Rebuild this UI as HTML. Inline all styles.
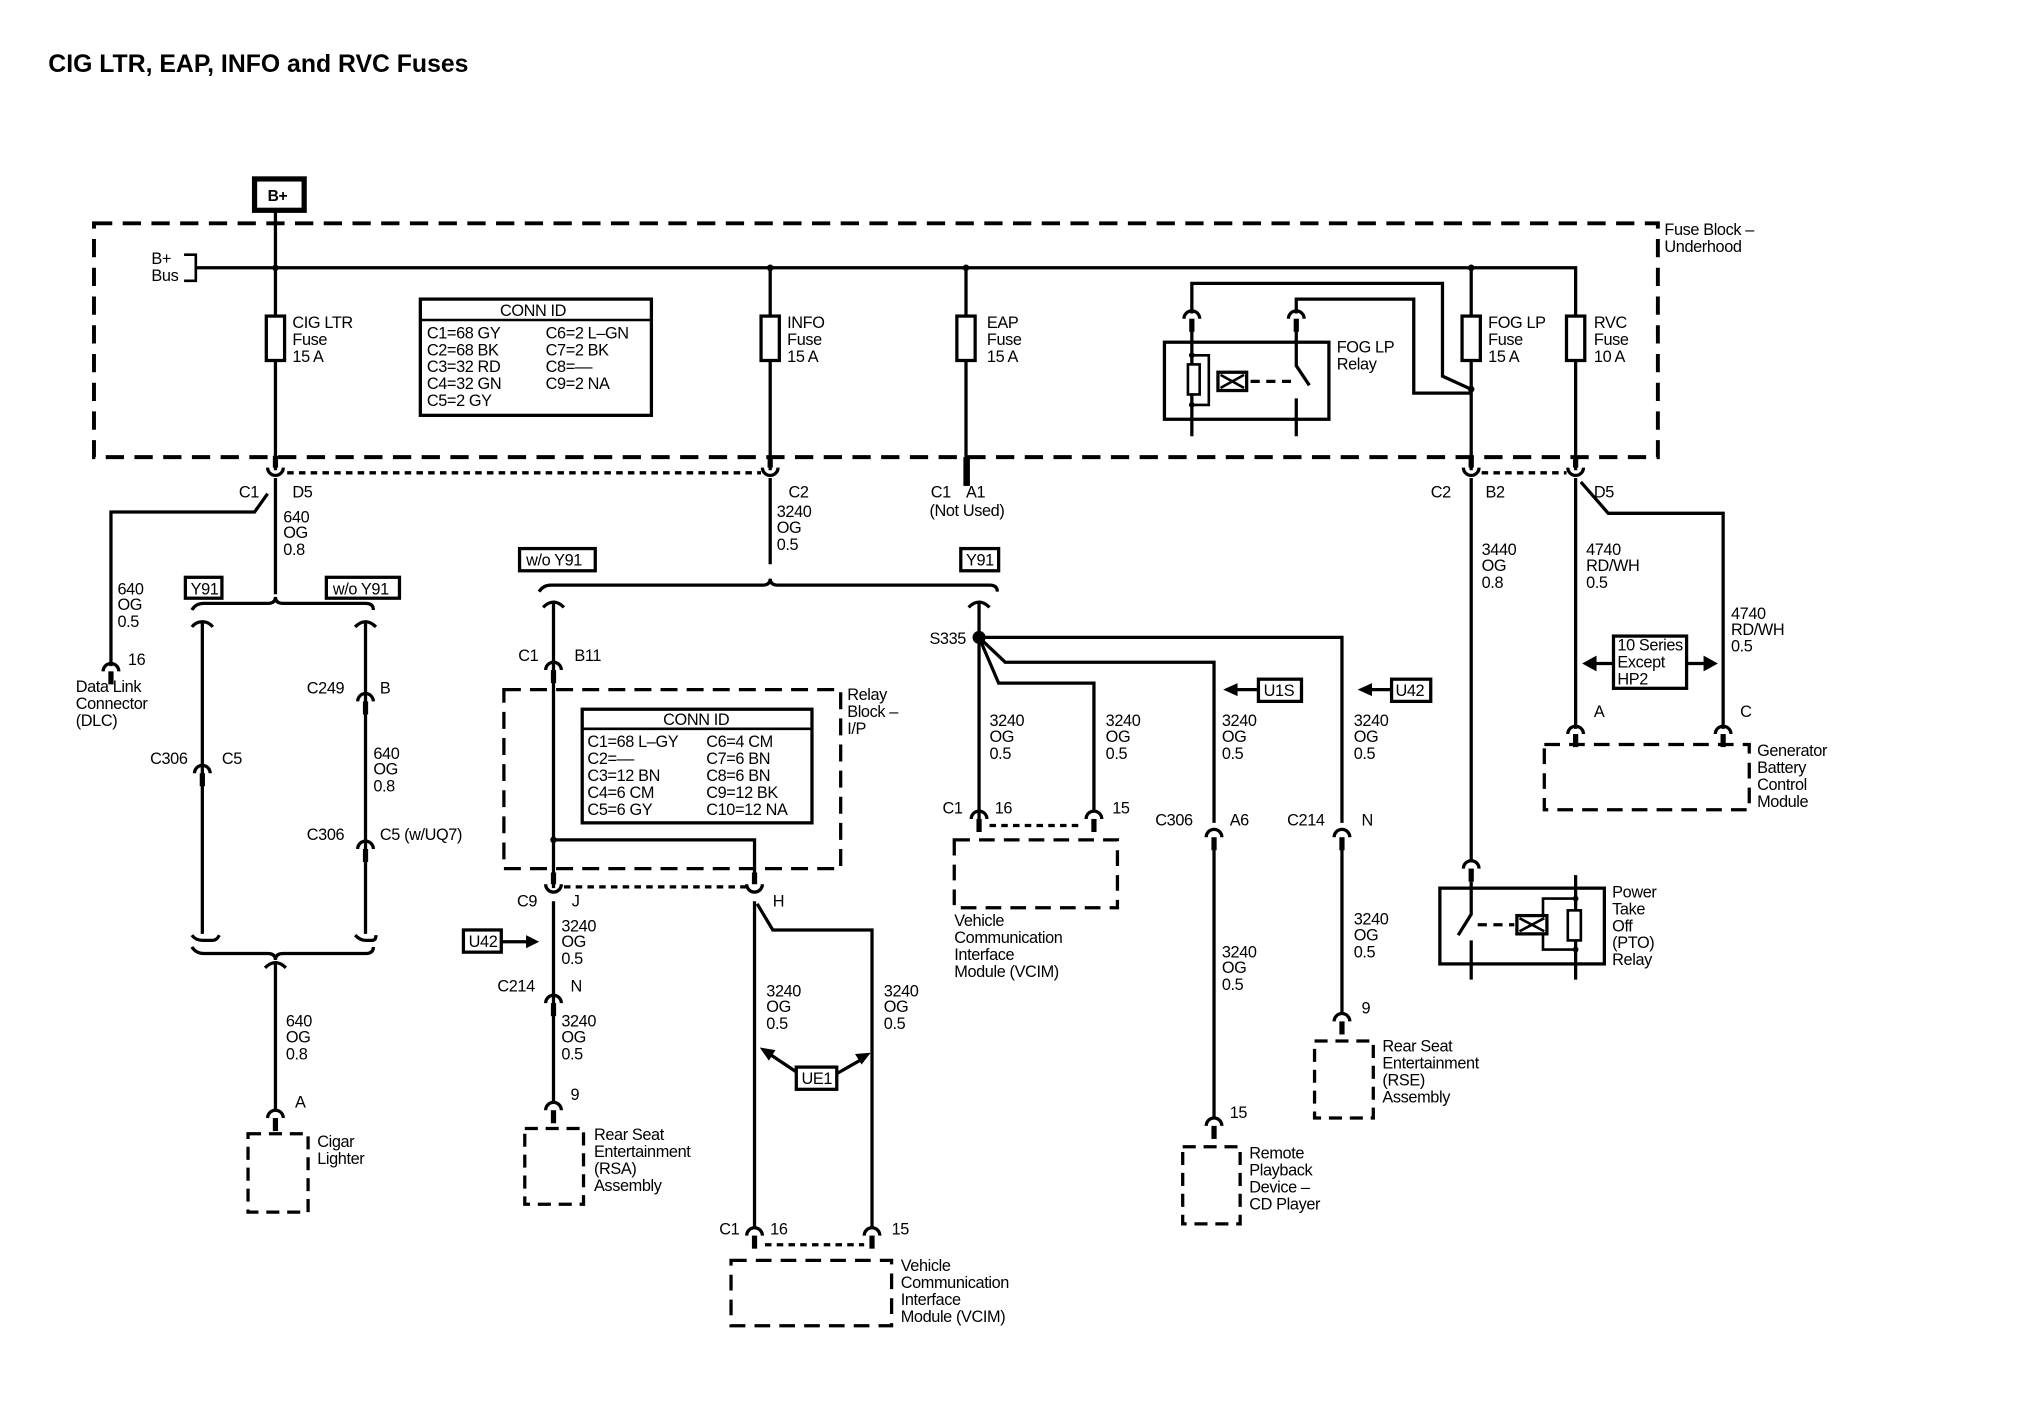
<!DOCTYPE html>
<html><head><meta charset="utf-8"><style>
html,body{margin:0;padding:0;background:#fff;}
svg{display:block;}
text{font-family:"Liberation Sans Narrow","Liberation Sans",sans-serif;font-size:12.5px;fill:#000;letter-spacing:-0.3px;}
.b{font-weight:bold;}
</style></head><body>
<svg width="2026" height="1408" viewBox="0 0 1552 1078" preserveAspectRatio="none" xmlns="http://www.w3.org/2000/svg">
<defs>
<g id="cup"><rect x="-2" y="-9" width="4" height="9"/><path d="M-6 0 A6 6 0 0 0 6 0" fill="none" stroke="#000" stroke-width="2.5"/></g>
<g id="cap"><rect x="-2" y="0" width="4" height="10"/><path d="M-6 0 A6 6 0 0 1 6 0" fill="none" stroke="#000" stroke-width="2.5"/></g>
</defs>
<rect width="1552" height="1078" fill="#fff"/>
<text x="37" y="55" class="b" style="font-family:'Liberation Sans',sans-serif;font-size:19px;letter-spacing:0">CIG LTR, EAP, INFO and RVC Fuses</text>

<g fill="none" stroke="#000" stroke-width="2.5">
<rect x="72" y="171" width="1198" height="179" stroke-dasharray="14 8" stroke-width="3"/>
<rect x="195" y="137" width="38" height="24" stroke-width="4"/>
<path d="M150 205 H1207 V360"/>
<path d="M141 195 H150 V215 H141" stroke-width="2"/>
<path d="M211 161 V360 M590 205 V360 M740 205 V372 M1127 205 V360"/>
<rect x="204" y="242" width="14" height="34" fill="#fff"/>
<rect x="583" y="242" width="14" height="34" fill="#fff"/>
<rect x="733" y="242" width="14" height="34" fill="#fff"/>
<rect x="1120" y="242" width="14" height="34" fill="#fff"/>
<rect x="1200" y="242" width="14" height="34" fill="#fff"/>
<rect x="322" y="229" width="177" height="89" stroke-width="2.5"/>
<path d="M322 245 H499" stroke-width="2"/>
<rect x="892" y="262" width="126" height="59"/>
<path d="M913 240 V217 H1105 V288 L1127 298"/>
<path d="M993 240 V229 H1083 V301 H1127"/>
<path d="M913 248 V334 M993 248 V280 L1003 295 M993 305 V334"/>
<rect x="910" y="279" width="9" height="23" fill="#fff" stroke-width="2"/>
<path d="M913 272 H926 V310 H913" stroke-width="2"/>
<rect x="933" y="285" width="22" height="14" stroke-width="2.5"/>
<path d="M935 287 L953 297 M935 297 L953 287" stroke-width="2"/>
<path d="M958 292 H990" stroke-dasharray="7 5"/>
<path d="M220 362 H583 M1135 362 H1200" stroke-dasharray="5 4"/>
<path d="M211 366 V455"/>
<path d="M205 378 L195 392 H85 V510"/>
<path d="M147 467 Q150 462 156 462 H205 Q211 462 211 457 Q211 462 217 462 H280 Q286 462 286 467"/>
<path d="M147 480 Q150 476 155 476 V715 M155 476 Q160 476 163 480"/>
<path d="M272 480 Q276 476 280 476 V715 M280 476 Q284 476 288 480"/>
<path d="M147 716 Q150 720 155 720 H163 Q166 720 168 716" />
<path d="M272 716 Q276 720 280 720 H285 Q288 720 288 716"/>
<path d="M147 725 Q150 730 156 730 H205 Q211 730 211 735 Q211 730 217 730 H280 Q286 730 286 725"/>
<path d="M203 741 Q207 737 211 737 V850 M211 737 Q215 737 219 741"/>
<rect x="190" y="868" width="46" height="60" stroke-dasharray="10 6"/>
<path d="M590 366 V432"/>
<path d="M413 453 Q416 448 422 448 H584 Q590 448 590 443 Q590 448 596 448 H758 Q764 448 764 453"/>
<path d="M416 465 Q420 461 424 461 V680 M424 461 Q428 461 432 465"/>
<path d="M742 465 Q746 461 750 461 V628 M750 461 Q754 461 758 465"/>
<rect x="386" y="528" width="258" height="137" stroke-dasharray="13 7"/>
<rect x="446" y="543" width="176" height="87" stroke-width="2.5"/>
<path d="M446 558 H622" stroke-width="2"/>
<path d="M424 643 H578 V675"/>
<path d="M432 679 H572" stroke-dasharray="5 4"/>
<path d="M424 690 V845 M578 690 V940"/>
<path d="M580 692 L592 712 H668 V940"/>
<path d="M384 721 H405"/>
<path d="M612 822 L588 806 M641 822 L662 810"/>
<rect x="402" y="864" width="45" height="58" stroke-dasharray="10 6"/>
<path d="M586 953 H662" stroke-dasharray="5 4"/>
<rect x="560" y="965" width="123" height="50" stroke-dasharray="12 7"/>
<path d="M750 488 H1028 V630 M750 488 L770 507 H930 V630 M750 488 L765 523 H838 V620"/>
<path d="M758 632 H830" stroke-dasharray="5 4"/>
<rect x="731" y="643" width="125" height="52" stroke-dasharray="12 7"/>
<path d="M964 528 H948 M1066 528 H1050"/>
<path d="M930 650 V856 M1028 650 V776"/>
<rect x="906" y="878" width="44" height="59" stroke-dasharray="10 6"/>
<rect x="1007" y="797" width="45" height="59" stroke-dasharray="10 6"/>
<path d="M1127 366 V660"/>
<rect x="1103" y="680" width="126" height="58"/>
<path d="M1127 675 V700 L1117 716 M1127 720 V750 M1207 670 V750"/>
<rect x="1201" y="697" width="10" height="23" fill="#fff" stroke-width="2"/>
<path d="M1207 688 H1182 V727 H1207" stroke-width="2"/>
<rect x="1162" y="701" width="23" height="14" fill="#fff"/>
<path d="M1164 703 L1183 713 M1164 713 L1183 703" stroke-width="2"/>
<path d="M1132 708 H1160" stroke-dasharray="7 5"/>
<path d="M1207 366 V558 M1211 369 L1232 393 H1320 V558"/>
<rect x="1236" y="487" width="56" height="40" stroke-width="2.5"/>
<path d="M1236 508 H1222 M1292 508 H1306"/>
<rect x="1183" y="570" width="157" height="50" stroke-dasharray="12 7"/>
</g>
<g fill="#000">
<circle cx="211" cy="205" r="2.5"/><circle cx="590" cy="205" r="2.5"/><circle cx="740" cy="205" r="2.5"/><circle cx="1127" cy="205" r="2.5"/>
<circle cx="1127" cy="298" r="2.5"/><circle cx="424" cy="643" r="2.5"/><circle cx="750" cy="488" r="5"/>
<circle cx="913" cy="272" r="2.2"/><circle cx="913" cy="310" r="2.2"/><circle cx="1207" cy="688" r="2.2"/><circle cx="1207" cy="727" r="2.2"/>
<rect x="738" y="350" width="5" height="22"/>
<polygon points="413,721 403,716 403,726"/>
<polygon points="937,528 948,523 948,533"/>
<polygon points="1040,528 1051,523 1051,533"/>
<polygon points="1212,508 1223,502 1223,514"/>
<polygon points="1316,508 1305,502 1305,514"/>
<polygon points="582,802 594,804 589,812"/>
<polygon points="667,806 655,807 660,815"/>
</g>
<use href="#cup" x="211" y="358"/><use href="#cup" x="590" y="358"/><use href="#cup" x="1127" y="358"/><use href="#cup" x="1207" y="358"/>
<use href="#cup" x="424" y="677"/><use href="#cup" x="578" y="677"/>
<use href="#cap" x="913" y="244"/><use href="#cap" x="993" y="244"/>
<use href="#cap" x="85" y="514"/><use href="#cap" x="155" y="592"/><use href="#cap" x="280" y="537"/><use href="#cap" x="280" y="650"/>
<use href="#cap" x="211" y="856"/><use href="#cap" x="424" y="513"/><use href="#cap" x="424" y="768"/><use href="#cap" x="424" y="850"/>
<use href="#cap" x="578" y="946"/><use href="#cap" x="668" y="946"/>
<use href="#cap" x="750" y="627"/><use href="#cap" x="838" y="627"/><use href="#cap" x="930" y="641"/><use href="#cap" x="1028" y="641"/>
<use href="#cap" x="930" y="862"/><use href="#cap" x="1028" y="782"/><use href="#cap" x="1127" y="665"/>
<use href="#cap" x="1207" y="562"/><use href="#cap" x="1320" y="562"/>

<text x="205" y="154" class="b" style="font-size:12px">B+</text>
<text x="116" y="202">B+</text><text x="116" y="215">Bus</text>
<text x="1275" y="180">Fuse Block –</text><text x="1275" y="193">Underhood</text>
<text x="224" y="251">CIG LTR</text><text x="224" y="264">Fuse</text><text x="224" y="277">15 A</text>
<text x="603" y="251">INFO</text><text x="603" y="264">Fuse</text><text x="603" y="277">15 A</text>
<text x="756" y="251">EAP</text><text x="756" y="264">Fuse</text><text x="756" y="277">15 A</text>
<text x="1140" y="251">FOG LP</text><text x="1140" y="264">Fuse</text><text x="1140" y="277">15 A</text>
<text x="1221" y="251">RVC</text><text x="1221" y="264">Fuse</text><text x="1221" y="277">10 A</text>
<text x="1024" y="270">FOG LP</text><text x="1024" y="283">Relay</text>
<text x="383" y="242">CONN ID</text>
<text x="327" y="259">C1=68 GY</text><text x="327" y="272">C2=68 BK</text><text x="327" y="285">C3=32 RD</text><text x="327" y="298">C4=32 GN</text><text x="327" y="311">C5=2 GY</text>
<text x="418" y="259">C6=2 L–GN</text><text x="418" y="272">C7=2 BK</text><text x="418" y="285">C8=––</text><text x="418" y="298">C9=2 NA</text>
<text x="183" y="381">C1</text><text x="224" y="381">D5</text>
<text x="217" y="400">640</text><text x="217" y="412">OG</text><text x="217" y="425">0.8</text>
<text x="90" y="455">640</text><text x="90" y="467">OG</text><text x="90" y="480">0.5</text>
<text x="98" y="509">16</text>
<text x="58" y="530">Data Link</text><text x="58" y="543">Connector</text><text x="58" y="556">(DLC)</text>
<rect x="142" y="442" width="28" height="16" fill="none" stroke="#000" stroke-width="2.5"/><text x="146" y="455">Y91</text>
<rect x="250" y="442" width="56" height="16" fill="none" stroke="#000" stroke-width="2.5"/><text x="255" y="455">w/o Y91</text>
<text x="115" y="585">C306</text><text x="170" y="585">C5</text>
<text x="235" y="531">C249</text><text x="291" y="531">B</text>
<text x="286" y="581">640</text><text x="286" y="593">OG</text><text x="286" y="606">0.8</text>
<text x="235" y="643">C306</text><text x="291" y="643">C5 (w/UQ7)</text>
<text x="219" y="786">640</text><text x="219" y="798">OG</text><text x="219" y="811">0.8</text>
<text x="226" y="848">A</text>
<text x="243" y="878">Cigar</text><text x="243" y="891">Lighter</text>
<text x="604" y="381">C2</text>
<text x="595" y="396">3240</text><text x="595" y="408">OG</text><text x="595" y="421">0.5</text>
<text x="713" y="381">C1</text><text x="740" y="381">A1</text><text x="712" y="395">(Not Used)</text>
<rect x="398" y="420" width="58" height="17" fill="none" stroke="#000" stroke-width="2.5"/><text x="403" y="433">w/o Y91</text>
<rect x="736" y="420" width="29" height="17" fill="none" stroke="#000" stroke-width="2.5"/><text x="740" y="433">Y91</text>
<text x="397" y="506">C1</text><text x="440" y="506">B11</text>
<text x="649" y="536">Relay</text><text x="649" y="549">Block –</text><text x="649" y="562">I/P</text>
<text x="508" y="555">CONN ID</text>
<text x="450" y="572">C1=68 L–GY</text><text x="450" y="585">C2=––</text><text x="450" y="598">C3=12 BN</text><text x="450" y="611">C4=6 CM</text><text x="450" y="624">C5=6 GY</text>
<text x="541" y="572">C6=4 CM</text><text x="541" y="585">C7=6 BN</text><text x="541" y="598">C8=6 BN</text><text x="541" y="611">C9=12 BK</text><text x="541" y="624">C10=12 NA</text>
<text x="396" y="694">C9</text><text x="438" y="694">J</text><text x="592" y="694">H</text>
<rect x="355" y="712" width="29" height="17" fill="none" stroke="#000" stroke-width="2.5"/><text x="359" y="725">U42</text>
<text x="430" y="713">3240</text><text x="430" y="725">OG</text><text x="430" y="738">0.5</text>
<text x="381" y="759">C214</text><text x="437" y="759">N</text>
<text x="430" y="786">3240</text><text x="430" y="798">OG</text><text x="430" y="811">0.5</text>
<text x="437" y="842">9</text>
<text x="455" y="873">Rear Seat</text><text x="455" y="886">Entertainment</text><text x="455" y="899">(RSA)</text><text x="455" y="912">Assembly</text>
<text x="587" y="763">3240</text><text x="587" y="775">OG</text><text x="587" y="788">0.5</text>
<text x="677" y="763">3240</text><text x="677" y="775">OG</text><text x="677" y="788">0.5</text>
<rect x="610" y="817" width="31" height="17" fill="#fff" stroke="#000" stroke-width="2.5"/><text x="614" y="830">UE1</text>
<text x="551" y="945">C1</text><text x="590" y="945">16</text><text x="683" y="945">15</text>
<text x="690" y="973">Vehicle</text><text x="690" y="986">Communication</text><text x="690" y="999">Interface</text><text x="690" y="1012">Module (VCIM)</text>
<text x="712" y="493">S335</text>
<text x="758" y="556">3240</text><text x="758" y="568">OG</text><text x="758" y="581">0.5</text>
<text x="847" y="556">3240</text><text x="847" y="568">OG</text><text x="847" y="581">0.5</text>
<text x="936" y="556">3240</text><text x="936" y="568">OG</text><text x="936" y="581">0.5</text>
<text x="1037" y="556">3240</text><text x="1037" y="568">OG</text><text x="1037" y="581">0.5</text>
<rect x="964" y="520" width="33" height="17" fill="none" stroke="#000" stroke-width="2.5"/><text x="968" y="533">U1S</text>
<rect x="1066" y="520" width="30" height="17" fill="none" stroke="#000" stroke-width="2.5"/><text x="1069" y="533">U42</text>
<text x="722" y="623">C1</text><text x="762" y="623">16</text><text x="852" y="623">15</text>
<text x="731" y="709">Vehicle</text><text x="731" y="722">Communication</text><text x="731" y="735">Interface</text><text x="731" y="748">Module (VCIM)</text>
<text x="885" y="632">C306</text><text x="942" y="632">A6</text>
<text x="986" y="632">C214</text><text x="1043" y="632">N</text>
<text x="936" y="733">3240</text><text x="936" y="745">OG</text><text x="936" y="758">0.5</text>
<text x="942" y="856">15</text>
<text x="957" y="887">Remote</text><text x="957" y="900">Playback</text><text x="957" y="913">Device –</text><text x="957" y="926">CD Player</text>
<text x="1037" y="708">3240</text><text x="1037" y="720">OG</text><text x="1037" y="733">0.5</text>
<text x="1043" y="776">9</text>
<text x="1059" y="805">Rear Seat</text><text x="1059" y="818">Entertainment</text><text x="1059" y="831">(RSE)</text><text x="1059" y="844">Assembly</text>
<text x="1096" y="381">C2</text><text x="1138" y="381">B2</text><text x="1221" y="381">D5</text>
<text x="1135" y="425">3440</text><text x="1135" y="437">OG</text><text x="1135" y="450">0.8</text>
<text x="1215" y="425">4740</text><text x="1215" y="437">RD/WH</text><text x="1215" y="450">0.5</text>
<text x="1326" y="474">4740</text><text x="1326" y="486">RD/WH</text><text x="1326" y="499">0.5</text>
<text x="1239" y="498">10 Series</text><text x="1239" y="511">Except</text><text x="1239" y="524">HP2</text>
<text x="1221" y="549">A</text><text x="1333" y="549">C</text>
<text x="1346" y="579">Generator</text><text x="1346" y="592">Battery</text><text x="1346" y="605">Control</text><text x="1346" y="618">Module</text>
<text x="1235" y="687">Power</text><text x="1235" y="700">Take</text><text x="1235" y="713">Off</text><text x="1235" y="726">(PTO)</text><text x="1235" y="739">Relay</text>
</svg>
</body></html>
